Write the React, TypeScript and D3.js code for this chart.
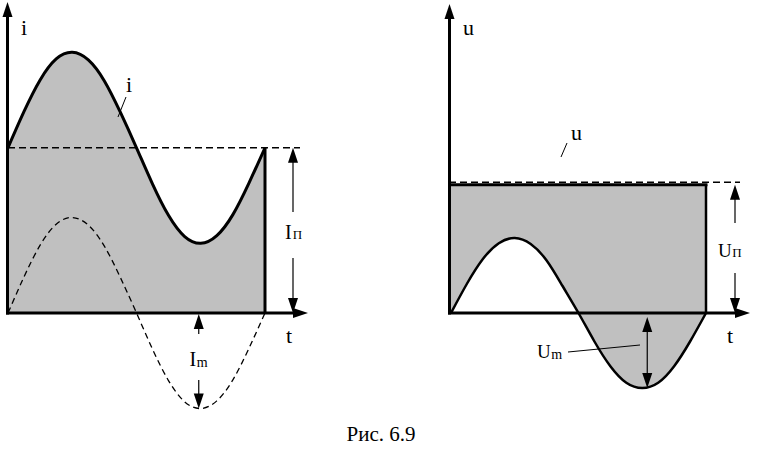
import React from "react";
import * as d3 from "d3";

// Phase samples (degrees) over one period
const phase = [0, 22.5, 45, 67.5, 90, 112.5, 135, 157.5, 180, 202.5, 225, 247.5, 270, 292.5, 315, 337.5, 360];
// Alternating component (units of I_m)
const acCurrent = [0, 0.38, 0.71, 0.93, 1.0, 0.92, 0.7, 0.37, 0, -0.38, -0.71, -0.93, -1.0, -0.92, -0.7, -0.37, 0];
// Constant (DC) component of current, units of I_m
const currentDC = 1.73;
// Alternating component of voltage (units of U_m)
const acVoltage = [0, 0.39, 0.72, 0.93, 1.0, 0.92, 0.7, 0.36, 0, -0.38, -0.71, -0.93, -1.0, -0.93, -0.71, -0.38, 0];
// Constant voltage level, units of U_m
const voltageDC = 1.71;

const caption = "Рис. 6.9";

const W = 765;
const H = 456;
const FONT =
  "'Liberation Serif', 'Tinos', 'Times New Roman', 'Times', 'Nimbus Roman', 'Nimbus Roman No9 L', 'FreeSerif', 'DejaVu Serif', 'Noto Serif', serif";

function Arrow({ x, y, dir, len = 15, half = 5 }: { x: number; y: number; dir: "up" | "down" | "right"; len?: number; half?: number }) {
  let pts: [number, number][];
  if (dir === "up") pts = [[x, y], [x - half, y + len], [x + half, y + len]];
  else if (dir === "down") pts = [[x, y], [x - half, y - len], [x + half, y - len]];
  else pts = [[x, y], [x - len, y - half], [x - len, y + half]];
  return <polygon points={pts.map((p) => p.join(",")).join(" ")} fill="#000" />;
}

function T({ x, y, size, children, anchor }: { x: number; y: number; size: number; children: React.ReactNode; anchor?: string }) {
  return (
    <text x={x} y={y} fontSize={size} textAnchor={anchor} fontFamily={FONT} fill="#000">
      {children}
    </text>
  );
}

export default function App() {
  // Left panel scales
  const xL = d3.scaleLinear().domain([0, 360]).range([8, 265]);
  const yL = d3.scaleLinear().domain([0, 1]).range([313, 217.5]);
  // Right panel scales
  const xR = d3.scaleLinear().domain([0, 360]).range([451, 706]);
  const yR = d3.scaleLinear().domain([0, 1]).range([313, 238]);

  const idx = phase.map((_, i) => i);

  const iLine = d3
    .line<number>()
    .x((i) => xL(phase[i]))
    .y((i) => yL(currentDC + acCurrent[i]))
    .curve(d3.curveNatural);
  const iArea = d3
    .area<number>()
    .x((i) => xL(phase[i]))
    .y0(yL(0))
    .y1((i) => yL(currentDC + acCurrent[i]))
    .curve(d3.curveNatural);
  const acLine = d3
    .line<number>()
    .x((i) => xL(phase[i]))
    .y((i) => yL(acCurrent[i]))
    .curve(d3.curveNatural);

  const uArea = d3
    .area<number>()
    .x((i) => xR(phase[i]))
    .y0((i) => yR(acVoltage[i]))
    .y1(yR(voltageDC))
    .curve(d3.curveNatural);
  const uLine = d3
    .line<number>()
    .x((i) => xR(phase[i]))
    .y((i) => yR(acVoltage[i]))
    .curve(d3.curveNatural);

  const L0 = yL(0);
  const Ldc = yL(currentDC);
  const Lmin = yL(-1);
  const Lmid = xL(270);
  const R0 = yR(0);
  const Rdc = yR(voltageDC);
  const Rmin = yR(-1);
  const Rmid = xR(270) + 5;
  const leftEnd = xL(360);
  const rightEnd = xR(360);

  return (
    <svg width={W} height={H} style={{ position: "absolute", left: 0, top: 0, background: "#fff" }}>
      {/* ---------- Left panel ---------- */}
      <path d={iArea(idx) || ""} fill="#c0c0c0" />
      <path d={acLine(idx) || ""} fill="none" stroke="#000" strokeWidth={1.3} strokeDasharray="6,4" />
      <line x1={8} x2={300} y1={Ldc} y2={Ldc} stroke="#000" strokeWidth={1.5} strokeDasharray="7,4" />
      <path d={iLine(idx) || ""} fill="none" stroke="#000" strokeWidth={3} strokeLinejoin="round" />
      <line x1={leftEnd} x2={leftEnd} y1={Ldc} y2={L0} stroke="#000" strokeWidth={3} />
      {/* axes */}
      <line x1={7.5} x2={7.5} y1={L0 + 1.5} y2={15} stroke="#000" strokeWidth={3} />
      <Arrow x={7.5} y={2} dir="up" />
      <line x1={6} x2={296} y1={L0} y2={L0} stroke="#000" strokeWidth={3} />
      <Arrow x={308} y={L0} dir="right" />
      {/* I_П dimension */}
      <line x1={293} x2={293} y1={Ldc + 14} y2={212} stroke="#000" strokeWidth={1.2} />
      <line x1={293} x2={293} y1={258} y2={L0 - 14} stroke="#000" strokeWidth={1.2} />
      <Arrow x={293} y={Ldc} dir="up" />
      <Arrow x={293} y={L0} dir="down" />
      {/* I_m dimension */}
      <line x1={Lmid - 2} x2={Lmid - 2} y1={L0 + 14} y2={334} stroke="#000" strokeWidth={1.2} />
      <line x1={Lmid - 2} x2={Lmid - 2} y1={380} y2={Lmin - 14} stroke="#000" strokeWidth={1.2} />
      <Arrow x={Lmid - 2} y={L0 + 1} dir="up" />
      <Arrow x={Lmid - 2} y={Lmin} dir="down" />
      {/* labels */}
      <T x={21} y={35} size={22}>i</T>
      <T x={126} y={92} size={22}>i</T>
      <line x1={126} y1={97} x2={118} y2={117} stroke="#000" strokeWidth={1} />
      <T x={286} y={343} size={22}>t</T>
      <T x={285} y={239} size={20}>
        I<tspan fontSize={13} dx={1}>П</tspan>
      </T>
      <T x={189.5} y={366} size={20}>
        I<tspan fontSize={14} dx={0.5} dy={1}>m</tspan>
      </T>

      {/* ---------- Right panel ---------- */}
      <path d={uArea(idx) || ""} fill="#c0c0c0" />
      <path d={uLine(idx) || ""} fill="none" stroke="#000" strokeWidth={2.5} strokeLinejoin="round" />
      <line x1={449} x2={rightEnd + 1.5} y1={Rdc} y2={Rdc} stroke="#000" strokeWidth={3} />
      <line x1={449} x2={740} y1={Rdc - 2.5} y2={Rdc - 2.5} stroke="#000" strokeWidth={1.3} strokeDasharray="7,4" />
      <line x1={rightEnd} x2={rightEnd} y1={Rdc} y2={R0} stroke="#000" strokeWidth={2.5} />
      {/* axes */}
      <line x1={449.5} x2={449.5} y1={R0 + 1.5} y2={18} stroke="#000" strokeWidth={3} />
      <Arrow x={449.5} y={4} dir="up" />
      <line x1={448} x2={738} y1={R0} y2={R0} stroke="#000" strokeWidth={3} />
      <Arrow x={750} y={R0} dir="right" />
      {/* U_П dimension */}
      <line x1={735} x2={735} y1={Rdc + 14} y2={223} stroke="#000" strokeWidth={1.2} />
      <line x1={735} x2={735} y1={273} y2={R0 - 14} stroke="#000" strokeWidth={1.2} />
      <Arrow x={735} y={Rdc} dir="up" />
      <Arrow x={735} y={R0} dir="down" />
      {/* U_m dimension */}
      <line x1={Rmid} x2={Rmid} y1={R0 + 18} y2={Rmin - 14} stroke="#000" strokeWidth={1.2} />
      <Arrow x={Rmid} y={R0 + 4} dir="up" />
      <Arrow x={Rmid} y={Rmin} dir="down" />
      {/* labels */}
      <T x={463} y={35} size={22}>u</T>
      <T x={571} y={140} size={22}>u</T>
      <line x1={567} y1={143} x2={561} y2={157} stroke="#000" strokeWidth={1} />
      <T x={727} y={343} size={22}>t</T>
      <T x={718} y={257} size={19}>
        U<tspan fontSize={13} dx={0.5}>П</tspan>
      </T>
      <T x={537} y={358} size={19}>
        U<tspan fontSize={14} dx={0.5} dy={1}>m</tspan>
      </T>
      <line x1={568} y1={352} x2={640} y2={345} stroke="#000" strokeWidth={1} />

      {/* caption */}
      <T x={381} y={441} size={21} anchor="middle">{caption}</T>
    </svg>
  );
}
